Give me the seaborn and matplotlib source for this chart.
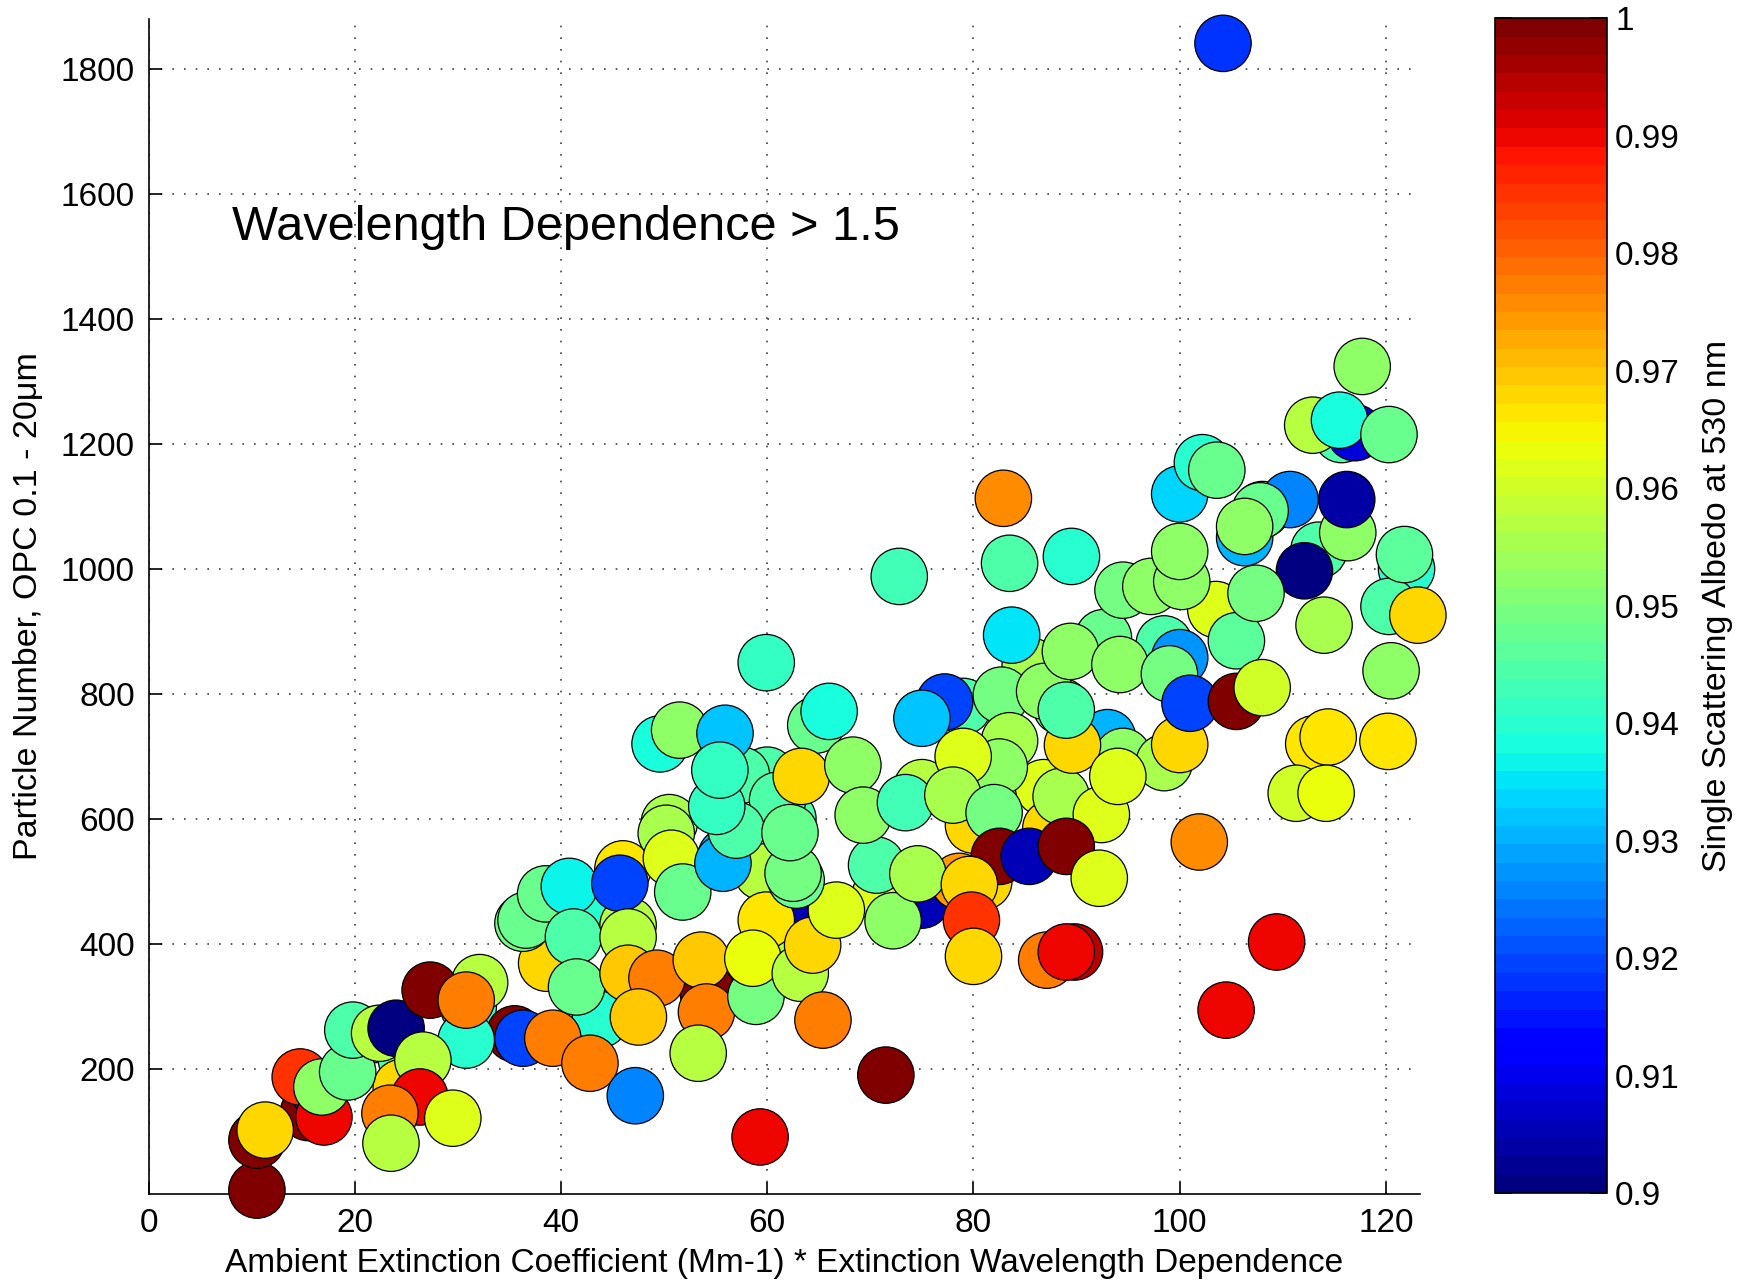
import seaborn as sns
import matplotlib.pyplot as plt
import matplotlib as mpl
import pandas as pd

sns.set_style("white")
plt.rcParams['font.family'] = ['Liberation Sans', 'DejaVu Sans']
plt.rcParams['text.color'] = 'black'
plt.rcParams['axes.labelcolor'] = 'black'
plt.rcParams['xtick.color'] = 'black'
plt.rcParams['ytick.color'] = 'black'

# --- data (points drawn in this order, later ones on top) ---
ext_x = [
    15.5, 16.5, 22.0, 25.0, 24.5, 31.0, 35.5, 30.8, 43.8, 38.6, 44.0, 46.0, 36.3, 46.5,
    54.3, 63.0, 62.0, 75.0, 71.0, 78.6, 81.0, 56.0, 59.5, 62.0, 60.0, 57.5, 64.7, 61.0,
    75.0, 79.0, 88.5, 86.8, 87.5, 80.0, 93.0, 94.5, 98.5, 92.6, 98.5, 103.5, 108.0, 106.3,
    113.5, 115.7, 117.0, 122.0, 113.0, 89.8, 85.5,
    10.5, 10.5, 11.3, 14.7, 17.0, 16.8, 19.3, 19.8, 22.4, 24.0, 26.6, 26.3, 23.4, 23.5,
    29.5, 32.1, 27.3, 30.8, 36.3, 39.2, 42.8, 47.2, 36.6, 38.5, 40.8, 41.2, 41.5, 45.7,
    46.5, 46.5, 49.3, 47.5, 53.6, 54.1, 53.3, 58.9, 59.9, 58.6, 63.2, 64.4, 65.4, 59.3,
    71.5, 66.7, 72.2, 62.8, 62.5, 70.6, 74.6, 50.5, 50.2, 50.7, 51.8, 55.7, 57.0, 62.2,
    55.1, 49.6, 51.5, 55.9, 55.4, 63.3, 68.3, 69.3, 73.4, 59.9, 66.0, 72.8,
    77.2, 75.0, 82.7, 86.9, 83.5, 82.5, 79.0, 78.0, 82.0, 88.5, 92.4, 89.6, 89.0, 94.0,
    100.0, 83.7, 89.4, 94.2, 100.0, 99.0, 105.5, 101.0, 105.5, 108.0, 82.5, 85.4, 89.0,
    92.2, 79.6, 79.8, 80.0, 87.1, 89.0, 101.9, 109.4, 104.5, 114.4, 120.2, 111.3, 114.2,
    120.5, 114.0, 120.3, 123.1, 121.8, 112.1, 116.3, 116.2, 110.7, 107.8, 106.3, 100.0,
    102.2, 103.6, 112.9, 115.5, 120.3, 117.7, 104.2, 82.9, 83.5, 89.5, 94.5, 97.2, 100.2,
    107.4, 100.0,
]
particle_n = [
    130, 165, 255, 215, 170, 300, 256, 246, 279, 369, 459, 520, 433, 430,
    320, 365, 465, 470, 480, 500, 500, 540, 515, 600, 670, 670, 750, 630,
    650, 780, 780, 650, 585, 590, 730, 700, 690, 890, 880, 935, 1095, 1050,
    1030, 1215, 1218, 1000, 720, 387, 845,
    6, 86, 102, 187, 123, 171, 195, 262, 257, 265, 214, 155, 129, 81,
    121, 338, 326, 310, 249, 249, 209, 157, 438, 480, 492, 411, 331, 497,
    411, 353, 345, 283, 374, 291, 225, 316, 438, 377, 353, 398, 278, 91,
    190, 454, 437, 502, 513, 526, 512, 594, 577, 537, 483, 529, 582, 578,
    620, 720, 742, 737, 678, 668, 686, 606, 626, 850, 772, 988,
    787, 761, 798, 804, 725, 683, 700, 638, 610, 636, 607, 718, 774, 668,
    719, 894, 868, 847, 858, 832, 885, 785, 788, 810, 540, 540, 556,
    505, 495, 438, 380, 374, 387, 563, 403, 294, 731, 724, 641, 641,
    837, 910, 940, 926, 1023, 997, 1058, 1111, 1111, 1093, 1068, 1120,
    1170, 1158, 1230, 1238, 1215, 1324, 1841, 1113, 1009, 1020, 966, 972, 980,
    961, 1028,
]
albedo = [
    1.0, 0.92, 0.955, 0.945, 0.968, 0.94, 1.0, 0.94, 0.94, 0.968, 0.94, 0.966, 0.95, 0.957,
    1.0, 0.957, 0.905, 0.905, 0.962, 0.975, 0.968, 0.93, 0.957, 0.945, 0.945, 0.945, 0.947, 0.945,
    0.957, 0.945, 0.95, 0.962, 0.968, 0.968, 0.93, 0.952, 0.955, 0.947, 0.945, 0.962, 0.955, 0.93,
    0.945, 0.945, 0.908, 0.94, 0.967, 0.995, 0.955,
    1.0, 1.0, 0.968, 0.985, 0.99, 0.952, 0.947, 0.945, 0.957, 0.9, 0.957, 0.99, 0.977, 0.957,
    0.962, 0.957, 1.0, 0.977, 0.92, 0.977, 0.977, 0.925, 0.948, 0.947, 0.937, 0.945, 0.947, 0.92,
    0.957, 0.97, 0.978, 0.97, 0.97, 0.977, 0.957, 0.95, 0.967, 0.963, 0.957, 0.968, 0.977, 0.99,
    1.0, 0.962, 0.952, 0.947, 0.95, 0.945, 0.955, 0.955, 0.955, 0.962, 0.948, 0.93, 0.945, 0.948,
    0.942, 0.938, 0.953, 0.932, 0.942, 0.968, 0.952, 0.953, 0.943, 0.942, 0.938, 0.943,
    0.92, 0.932, 0.95, 0.953, 0.955, 0.952, 0.962, 0.955, 0.95, 0.955, 0.962, 0.968, 0.945, 0.962,
    0.968, 0.935, 0.953, 0.952, 0.928, 0.95, 0.946, 0.92, 1.0, 0.96, 1.0, 0.905, 1.0,
    0.962, 0.968, 0.985, 0.968, 0.977, 0.99, 0.976, 0.99, 0.99, 0.966, 0.966, 0.96, 0.963,
    0.952, 0.955, 0.945, 0.968, 0.946, 0.9, 0.952, 0.904, 0.925, 0.947, 0.952, 0.933,
    0.94, 0.947, 0.957, 0.938, 0.947, 0.952, 0.918, 0.976, 0.945, 0.94, 0.95, 0.952, 0.952,
    0.95, 0.952,
]

x_ticks = [0, 20, 40, 60, 80, 100, 120]
y_ticks = [200, 400, 600, 800, 1000, 1200, 1400, 1600, 1800]
cb_ticks = [0.9, 0.91, 0.92, 0.93, 0.94, 0.95, 0.96, 0.97, 0.98, 0.99, 1.0]
cb_labels = ["0.9", "0.91", "0.92", "0.93", "0.94", "0.95", "0.96", "0.97", "0.98", "0.99", "1"]

df = pd.DataFrame({"ext": ext_x, "num": particle_n, "ssa": albedo})

cmap = plt.get_cmap("jet", 64)
norm = mpl.colors.Normalize(vmin=0.9, vmax=1.0)

fig = plt.figure(figsize=(17.53, 12.83), dpi=100)
ax = fig.add_axes([0.0848, 0.0695, 0.7252, 0.9157])
cax = fig.add_axes([0.8528, 0.0701, 0.0638, 0.9156])

sns.scatterplot(
    data=df, x="ext", y="num", hue="ssa", palette=cmap, hue_norm=norm,
    s=1650, edgecolor="black", linewidth=0.9, alpha=1, legend=False,
    clip_on=False, ax=ax, zorder=3,
)

ax.set_xlim(0, 123.3)
ax.set_ylim(0, 1880)
ax.set_xticks(x_ticks)
ax.set_yticks(y_ticks)
ax.grid(True, linestyle=(0, (1, 6)), color="#404040", linewidth=1.2)
ax.set_axisbelow(True)
for side in ["top", "right"]:
    ax.spines[side].set_visible(False)
for side in ["left", "bottom"]:
    ax.spines[side].set_color("black")
    ax.spines[side].set_linewidth(1.2)
ax.tick_params(direction="in", length=9, width=1.2, labelsize=24, pad=10,
               left=True, bottom=True, colors="black")

ax.set_xlabel("Ambient Extinction Coefficient (Mm-1) * Extinction Wavelength Dependence",
              fontsize=24, labelpad=7)
ax.set_ylabel("Particle Number, OPC 0.1 - 20\u03bcm", fontsize=24.5, labelpad=12)

ax.text(8.05, 1527, "Wavelength Dependence > 1.5", fontsize=35, va="baseline",
        ha="left", color="black")

sm = mpl.cm.ScalarMappable(cmap=cmap, norm=norm)
cb = fig.colorbar(sm, cax=cax, ticks=cb_ticks)
cb.ax.set_yticklabels(cb_labels)
cb.ax.tick_params(direction="in", length=12, width=1.2, labelsize=24, pad=6,
                  left=True, right=True, labelleft=False, labelright=True,
                  colors="black")
cb.outline.set_linewidth(1.2)
cb.outline.set_edgecolor("black")
cb.set_label("Single Scattering Albedo at 530 nm", fontsize=24.5, labelpad=16)

fig.savefig("out.png", dpi=100)
plt.close(fig)
